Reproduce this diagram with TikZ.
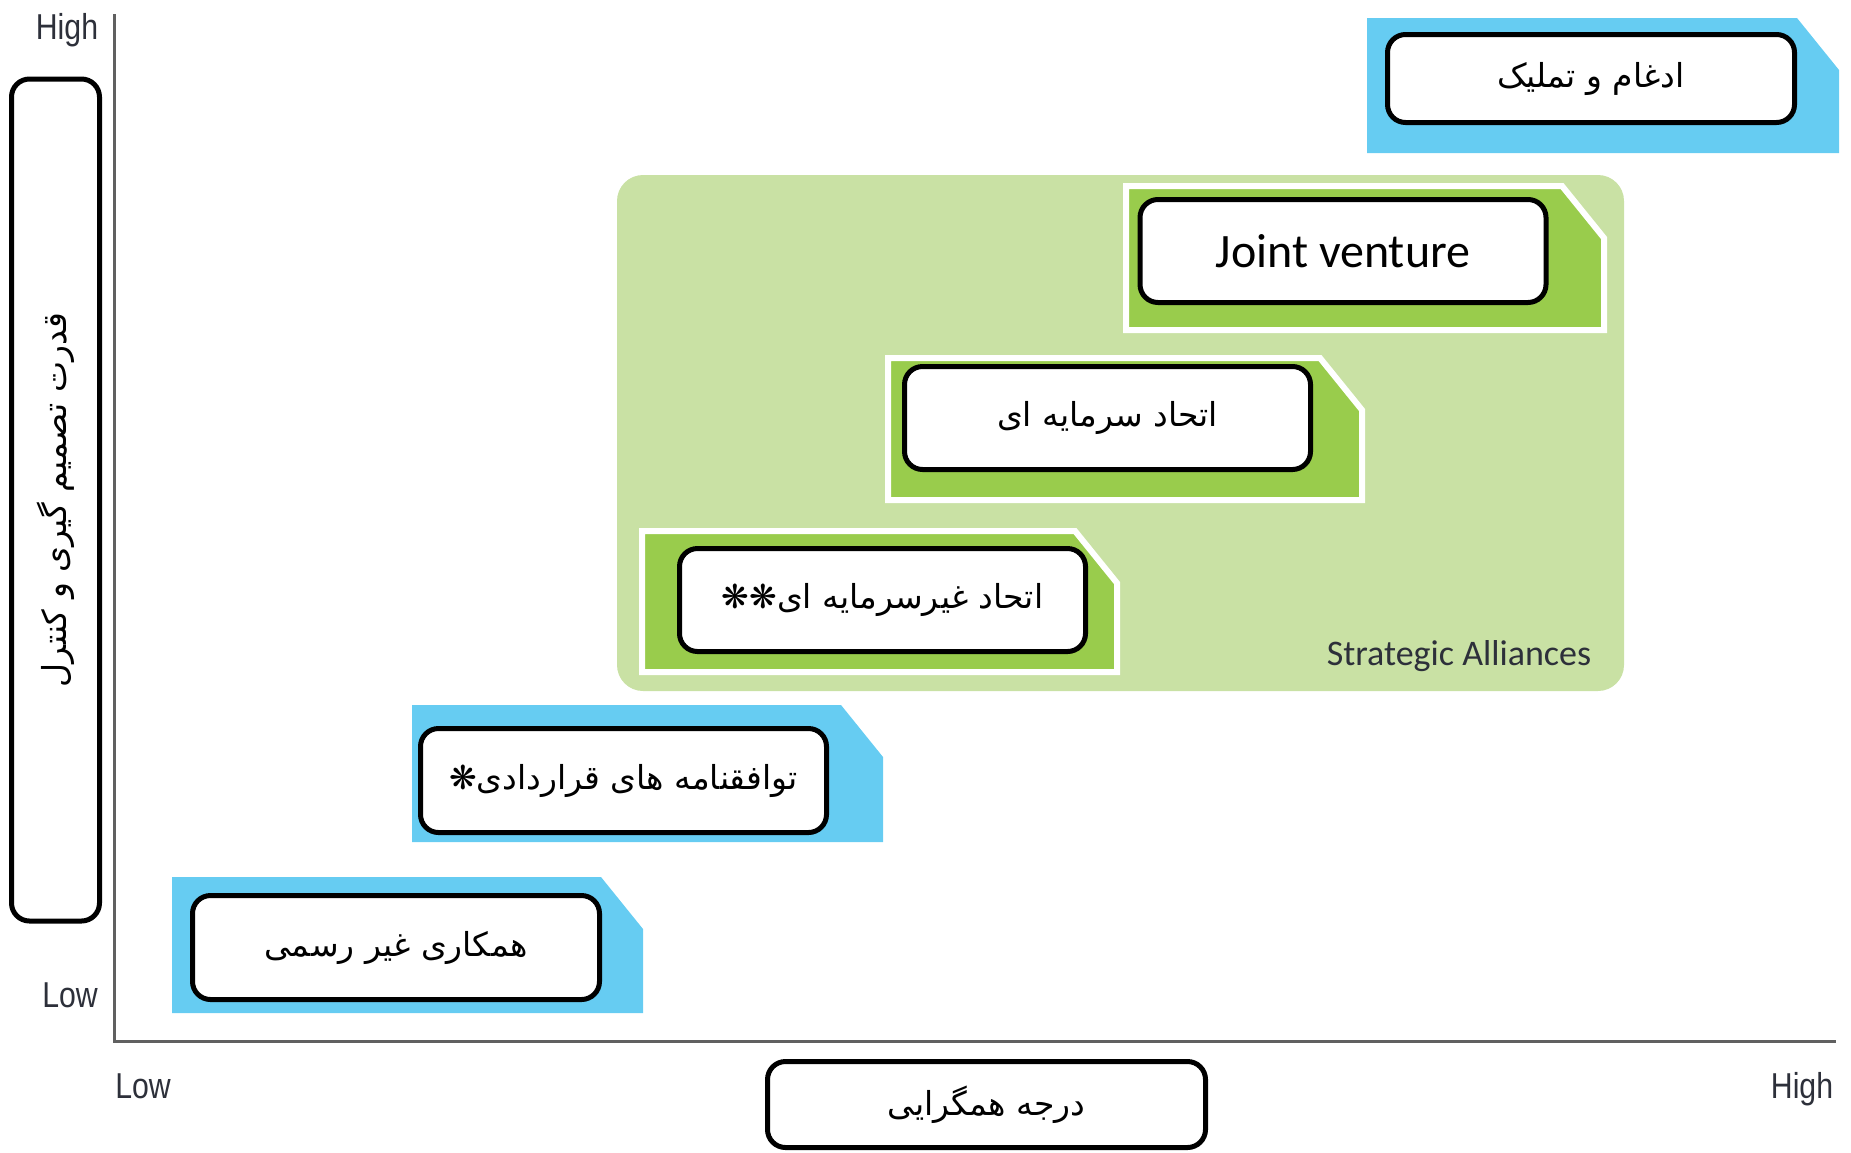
\documentclass[tikz,border=0pt]{standalone}
\usepackage{fontspec}
\usepackage{xcolor}
\usepackage{tikz}
\TeXXeTstate=1
\newfontfamily\farsifont[Script=Arabic]{DejaVu Sans}
\newfontfamily\calibrifont{Carlito}
\newfontfamily\narrowfont[FakeStretch=0.84]{Liberation Sans}
\definecolor{tabblue}{RGB}{102,204,242}
\definecolor{tabgreen}{RGB}{153,204,76}
\definecolor{allygreen}{RGB}{201,225,164}
\definecolor{axisgray}{RGB}{96,96,96}
\definecolor{labelink}{RGB}{45,48,58}

% tab with the cut top-right corner: style, left, top, right, bottom
\newcommand{\tabpath}[5]{%
  \path[#1] (#2,#3) -- ({#4-42},#3) -- (#4,{#3+52}) -- (#4,#5) -- (#2,#5) -- cycle;}

\begin{document}
\begin{tikzpicture}[
  x=1pt, y=-1pt,
  bluetab/.style={fill=tabblue},
  greentab/.style={fill=tabgreen, draw=white, line width=6pt},
  whitebox/.style={draw, fill=white, line width=5pt, rounded corners=18pt, inner sep=0pt,
    minimum width=406pt, minimum height=103pt, align=center,
    font=\farsifont\fontsize{33}{38}\selectfont},
  axislbl/.style={anchor=base, text=labelink, font=\narrowfont\fontsize{36}{40}\selectfont},
  axisline/.style={draw=axisgray, line width=3pt}
]
\useasboundingbox (0,0) rectangle (1851,1152);

% axes
\coordinate (top) at (114,14);
\coordinate (origin) at (114,1041);
\coordinate (right) at (1836,1041);
\draw[axisline] (top) -- (origin) -- (right);
\node[axislbl] (yhigh) at (67,39) {High};
\node[axislbl] (ylow) at (70,1007) {Low};
\node[axislbl] (xlow) at (143,1098) {Low};
\node[axislbl] (xhigh) at (1802,1098) {High};

% strategic alliances area
\fill[allygreen, rounded corners=26pt] (617,175) rectangle (1624,691);
\node[anchor=base, text=labelink, font=\calibrifont\fontsize{36}{40}\selectfont]
  (alliances) at (1459,665) {Strategic Alliances};

% tabs
\tabpath{bluetab}{1367}{18}{1839}{153}
\tabpath{greentab}{1126}{186}{1604}{330}
\tabpath{greentab}{888}{358}{1362}{500}
\tabpath{greentab}{642}{531}{1117}{672}
\tabpath{bluetab}{412}{705}{883}{842}
\tabpath{bluetab}{172}{877}{643}{1013}

% boxes
\node[whitebox, minimum height=88pt, minimum width=407pt] (merger) at (1591,78.5)
  {\beginR ادغام و تملیک\endR};
\node[whitebox, font=\calibrifont\fontsize{48}{52}\selectfont] (jv) at (1343,251) {Joint venture};
\node[whitebox] (equity) at (1107.5,418) {\beginR اتحاد سرمایه ای\endR};
\node[whitebox] (nonequity) at (882.5,600) {\beginR اتحاد غیرسرمایه ای❋❋\endR};
\node[whitebox, minimum height=104pt] (contract) at (623.5,780.5)
  {\beginR توافقنامه های قراردادی❋\endR};
\node[whitebox, minimum height=104pt, minimum width=407pt] (informal) at (396,947.5)
  {\beginR همکاری غیر رسمی\endR};

% axis titles
\node[whitebox, minimum width=842pt, minimum height=88pt, rotate=90] (ytitle) at (55.5,500)
  {\beginR قدرت تصمیم گیری و کنترل\endR};
\node[whitebox, minimum width=438pt, minimum height=86pt] (xtitle) at (986.5,1104.5)
  {\beginR درجه همگرایی\endR};
\end{tikzpicture}
\end{document}
